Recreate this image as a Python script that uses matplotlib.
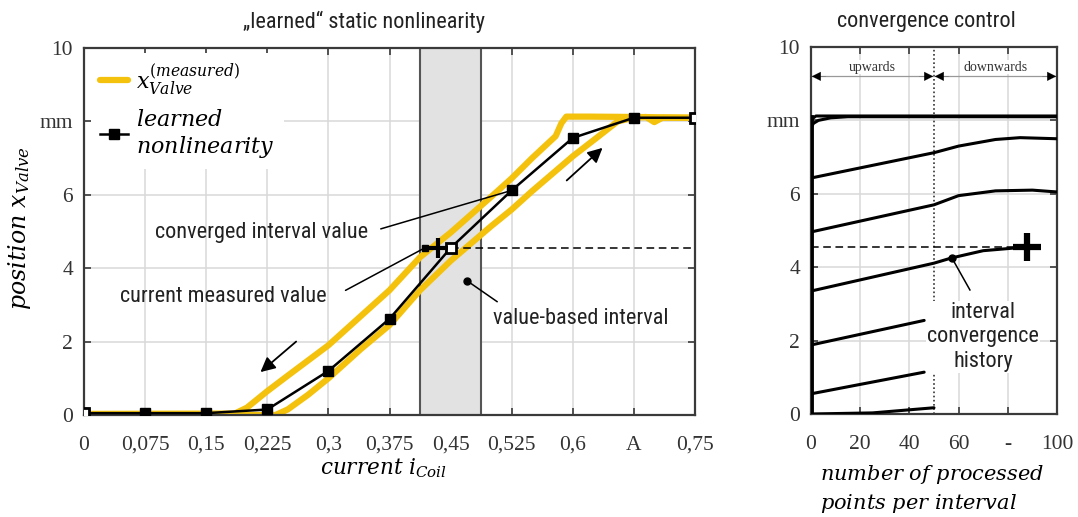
import matplotlib
matplotlib.use("Agg")
import matplotlib.pyplot as plt
from matplotlib import font_manager
from matplotlib.patches import Rectangle

# ---------------- data ----------------
current_ticks = [0, 0.075, 0.15, 0.225, 0.3, 0.375, 0.45, 0.525, 0.6, 0.675, 0.75]
current_tick_labels = ['0', '0,075', '0,15', '0,225', '0,3', '0,375', '0,45',
                       '0,525', '0,6', 'A', '0,75']
position_ticks = [0, 2, 4, 6, 8, 10]
position_tick_labels = ['0', '2', '4', '6', 'mm', '10']

# learned static nonlinearity (support points)
learned_i = [0, 0.075, 0.15, 0.225, 0.3, 0.375, 0.45, 0.525, 0.6, 0.675, 0.75]
learned_x = [0.05, 0.05, 0.05, 0.15, 1.2, 2.62, 4.55, 6.12, 7.55, 8.1, 8.1]

# measured valve position, falling branch (upper/left)
fall_i = [0.75, 0.68, 0.62, 0.592, 0.586, 0.579, 0.55, 0.525, 0.5, 0.45, 0.4125,
          0.375, 0.35, 0.3, 0.25, 0.225, 0.2, 0.185, 0.0]
fall_x = [8.1, 8.12, 8.13, 8.13, 7.95, 7.6, 7.0, 6.45, 5.95, 4.97, 4.3,
          3.4, 2.9, 1.9, 1.07, 0.65, 0.2, 0.04, 0.03]
# measured valve position, rising branch (lower/right)
rise_i = [0.0, 0.235, 0.25, 0.275, 0.3, 0.34, 0.375, 0.4125, 0.45, 0.5, 0.525,
          0.55, 0.6, 0.632, 0.655, 0.675, 0.69, 0.70, 0.71, 0.75]
rise_x = [0.0, 0.0, 0.15, 0.55, 1.0, 1.8, 2.45, 3.4, 4.2, 5.15, 5.6,
          6.1, 7.05, 7.6, 8.0, 8.1, 8.12, 7.98, 8.1, 8.1]

# value-based interval and current measurement
interval_lo, interval_hi = 0.4125, 0.4875
interval_value = 4.55
current_meas_i = 0.434
interval_bar_i = [0.418, 0.45]

# convergence history per interval
points_ticks = [0, 20, 40, 60, 80, 100]
points_tick_labels = ['0', '20', '40', '60', '-', '100']
hist_a_n = [0, 1, 3, 8, 15, 100]
hist_a_x = [7.8, 7.92, 8.0, 8.07, 8.1, 8.1]
hist_b_n = [0, 2, 100]
hist_b_x = [8.02, 8.12, 8.12]
hist_c_n = [0, 50, 60, 75, 85, 100]
hist_c_x = [6.43, 7.12, 7.3, 7.48, 7.53, 7.5]
hist_d_n = [0, 50, 60, 75, 90, 100]
hist_d_x = [4.96, 5.7, 5.95, 6.08, 6.1, 6.05]
hist_e_n = [0, 50, 57, 70, 84, 88]
hist_e_x = [3.35, 4.11, 4.25, 4.45, 4.53, 4.55]
hist_f_n = [0, 46]
hist_f_x = [1.88, 2.55]
hist_g_n = [0, 46]
hist_g_x = [0.55, 1.14]
hist_h_n = [0, 25, 50]
hist_h_x = [0.0, 0.03, 0.17]
hist_start_x = [0, 8.1]
converged_n = 88

# ---------------- styling ----------------
YELLOW = '#F4C20D'
FRAME = '#3a3a3a'
GRID = '#d9d9d9'

avail = {f.name for f in font_manager.fontManager.ttflist}
SANS = next(f for f in ['Roboto Condensed', 'Liberation Sans Narrow', 'Roboto',
                        'DejaVu Sans'] if f in avail)
SERIF = 'Liberation Serif'
plt.rcParams['mathtext.fontset'] = 'dejavuserif'

fig = plt.figure(figsize=(10.78, 5.17), dpi=100)
W, H = 1078, 517
ax1 = fig.add_axes([84 / W, 1 - 415 / H, 611 / W, 367 / H])
ax2 = fig.add_axes([811 / W, 1 - 414 / H, 246 / W, 367 / H])


def style_axes(ax):
    ax.grid(True, color=GRID, lw=1.1, zorder=0)
    ax.set_axisbelow(True)
    ax.tick_params(direction='in', top=True, right=True, length=5, width=1.2,
                   color=FRAME, labelsize=15.5, pad=8)
    ax.tick_params(axis='x', pad=15)
    for lab in ax.get_xticklabels() + ax.get_yticklabels():
        lab.set_fontfamily(SERIF)
        lab.set_color('#333333')
    for sp in ax.spines.values():
        sp.set_color(FRAME)
        sp.set_linewidth(1.6)


# ---------------- left: learned static nonlinearity ----------------
ax1.set_xlim(0, 0.75)
ax1.set_ylim(0, 10)
ax1.set_xticks(current_ticks, current_tick_labels)
ax1.set_yticks(position_ticks, position_tick_labels)
style_axes(ax1)

ax1.add_patch(Rectangle((interval_lo, 0), interval_hi - interval_lo, 10,
                        facecolor='#e2e2e2', edgecolor='none', zorder=1))
ax1.axvline(interval_lo, color='#555555', lw=1.5, zorder=1.5)
ax1.axvline(interval_hi, color='#555555', lw=1.5, zorder=1.5)

ax1.plot(fall_i, fall_x, color=YELLOW, lw=4.5, solid_capstyle='round', zorder=2,
         label=r'$x_{Valve}^{(measured)}$')
ax1.plot(rise_i, rise_x, color=YELLOW, lw=4.5, solid_capstyle='round', zorder=2)
ax1.plot(learned_i, learned_x, color='black', lw=1.8, marker='s', ms=7,
         mfc='black', mec='black', zorder=3,
         label='$learned$\n$nonlinearity$')
ax1.plot([learned_i[0], learned_i[-1]], [learned_x[0], learned_x[-1]], ls='none',
         marker='s', ms=7, mfc='white', mec='black', mew=2, zorder=3.5)

ax1.plot([interval_bar_i[1], 0.75], [interval_value, interval_value],
         color='black', lw=1.1, ls=(0, (5, 3)), zorder=2.5)
ax1.plot(interval_bar_i, [interval_value, interval_value], color='black', lw=2,
         zorder=4)
ax1.plot([interval_bar_i[0]], [interval_value], ls='none', marker='s', ms=5,
         color='black', zorder=4)
ax1.plot([interval_bar_i[1]], [interval_value], ls='none', marker='s', ms=7,
         mfc='white', mec='black', mew=2, zorder=4)
ax1.plot([current_meas_i], [interval_value], ls='none', marker='+', ms=14,
         mew=3, color='black', zorder=5)

leg = ax1.legend(loc='upper left', bbox_to_anchor=(0.0, 1.005), fontsize=16,
                 frameon=True, framealpha=1, facecolor='white', edgecolor='none',
                 handlelength=1.3, handletextpad=0.35, borderaxespad=0.3,
                 labelspacing=0.55, borderpad=0.4, fancybox=False)
leg.set_zorder(6)

txt_kw = dict(fontfamily=SANS, fontsize=16, color='#222222')
ax1.annotate('', xy=(learned_i[7], learned_x[7]), xytext=(0.361, 5.05),
             arrowprops=dict(arrowstyle='-', color='black', lw=1.1), zorder=4)
ax1.text(0.087, 4.97, 'converged interval value', va='center', **txt_kw)
ax1.annotate('', xy=(interval_bar_i[0], interval_value), xytext=(0.318, 3.36),
             arrowprops=dict(arrowstyle='-', color='black', lw=1.1), zorder=4)
ax1.text(0.044, 3.22, 'current measured value', va='center', **txt_kw)
ax1.plot([0.470, 0.507], [3.66, 3.09], color='black', lw=1.1, zorder=4)
ax1.plot([0.470], [3.66], 'o', color='black', ms=5, zorder=4)
ax1.text(0.502, 2.62, 'value-based interval', va='center', **txt_kw)
ax1.annotate('', xy=(0.214, 1.12), xytext=(0.263, 2.05),
             arrowprops=dict(arrowstyle='-|>', color='black', lw=1.3,
                             mutation_scale=22), zorder=4)
ax1.annotate('', xy=(0.639, 7.33), xytext=(0.590, 6.34),
             arrowprops=dict(arrowstyle='-|>', color='black', lw=1.3,
                             mutation_scale=22), zorder=4)

fig.text(364 / W, 1 - 22 / H, '\u201elearned\u201c static nonlinearity',
         ha='center', va='center', fontfamily=SANS, fontsize=16, color='#222222')
fig.text(20 / W, 1 - 228 / H, r'$position\ x_{Valve}$', rotation=90,
         ha='center', va='center', fontsize=17)
fig.text(383 / W, 1 - 468 / H, r'$current\ i_{Coil}$', ha='center',
         va='center', fontsize=15.5)

# ---------------- right: convergence control ----------------
ax2.set_xlim(0, 100)
ax2.set_ylim(0, 10)
ax2.set_xticks(points_ticks, points_tick_labels)
ax2.set_yticks(position_ticks, position_tick_labels)
style_axes(ax2)

ax2.axvline(50, color='#333333', lw=1.2, ls=(0, (1, 1.5)), zorder=1.5)
hist_kw = dict(color='black', lw=2.2, solid_capstyle='round', zorder=3)
for n, x in [(hist_a_n, hist_a_x), (hist_b_n, hist_b_x), (hist_c_n, hist_c_x),
             (hist_d_n, hist_d_x), (hist_e_n, hist_e_x), (hist_f_n, hist_f_x),
             (hist_g_n, hist_g_x), (hist_h_n, hist_h_x)]:
    ax2.plot(n, x, **hist_kw)
ax2.plot([0, 0], hist_start_x, color='black', lw=3.5, zorder=3)
ax2.plot([0, converged_n], [interval_value, interval_value], color='black',
         lw=1.1, ls=(0, (5, 3)), zorder=2.5)
ax2.plot([converged_n], [interval_value], ls='none', marker='+', ms=20, mew=4.5,
         color='black', zorder=5)

# upwards / downwards ranges
ax2.plot([0, 100], [9.2, 9.2], color='#999999', lw=0.9, zorder=2)
for tip, tail in [(0.3, 6), (49.7, 44), (50.3, 56), (99.7, 94)]:
    ax2.annotate('', xy=(tip, 9.2), xytext=(tail, 9.2),
                 arrowprops=dict(arrowstyle='-|>', color='black', lw=0.1,
                                 mutation_scale=16, shrinkA=0, shrinkB=0),
                 zorder=4)
ax2.text(25, 9.45, 'upwards', ha='center', va='center', fontfamily=SERIF,
         fontsize=10, color='#333333',
         bbox=dict(facecolor='white', edgecolor='none', pad=0.5))
ax2.text(75, 9.45, 'downwards', ha='center', va='center', fontfamily=SERIF,
         fontsize=10, color='#333333',
         bbox=dict(facecolor='white', edgecolor='none', pad=0.5))

ax2.plot([57.3, 64.6], [4.25, 3.38], color='black', lw=1.1, zorder=4)
ax2.plot([57.3], [4.25], 'o', color='black', ms=5, zorder=4)
ax2.text(70, 2.1, 'interval\nconvergence\nhistory', ha='center', va='center',
         fontfamily=SANS, fontsize=16, color='#222222', linespacing=1.2,
         bbox=dict(facecolor='white', edgecolor='none', pad=1), zorder=4.5)

fig.text(926 / W, 1 - 22 / H, 'convergence control', ha='center', va='center',
         fontfamily=SANS, fontsize=16, color='#222222')
fig.text(820 / W, 1 - 489 / H, '$number\\ of\\ processed$\n$points\\ per\\ interval$',
         ha='left', va='center', fontsize=15, linespacing=1.3)

fig.savefig('out.png', dpi=100, facecolor='white')
